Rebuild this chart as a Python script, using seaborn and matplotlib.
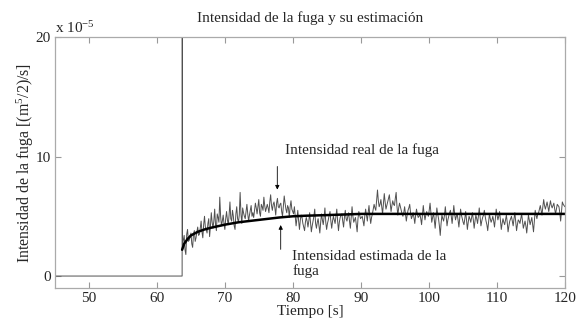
import numpy as np
import pandas as pd
import matplotlib
matplotlib.use("Agg")
import matplotlib.pyplot as plt
import seaborn as sns

# ---- data (units of 1e-5 (m^5/2)/s) ----
t_zero = [45.0, 63.7, 63.72]
real_zero = [0.0, 0.0, 30.0]

noise_t_start = 63.75
noise_t_end = 120.0
# samples read at even positions
real_vals_a = [
    2.6, 3.4, 1.8, 3.9, 3.0, 3.6, 2.4, 3.8, 3.2, 4.1,
    3.5, 4.6, 3.2, 5.0, 3.9, 4.4, 3.3, 5.3,
    4.0, 5.6, 3.8, 4.9, 6.6, 4.2, 5.1, 3.9,
    5.4, 4.3, 6.2, 4.6, 5.0, 3.9, 5.8, 4.5,
    7.0, 4.4, 5.3, 4.8, 6.0, 4.6, 5.5, 5.0,
    4.9, 6.1, 5.2, 6.4, 5.0, 5.8, 6.6, 5.4,
    6.0, 5.3, 6.8, 5.5, 6.2, 5.1, 6.5, 5.7,
    6.1, 5.0, 6.7, 5.6, 5.9, 4.9, 6.3, 5.4,
    5.8, 4.2, 5.5, 3.9, 5.1, 4.4, 3.8, 4.9,
    4.1, 5.3, 3.7, 4.6, 5.6, 4.0, 4.8, 3.6,
    5.2, 4.3, 5.7, 3.9, 4.7, 5.4, 4.0, 5.0,
    4.4, 5.6, 3.8, 4.9, 5.2, 4.1, 5.5, 4.6,
    5.3, 4.0, 5.8, 4.5, 4.9, 3.7, 5.4, 4.8,
    5.0, 4.2, 5.6, 4.6, 5.9, 4.4, 5.2, 6.0,
    5.5, 7.2, 5.8, 6.4, 5.2, 6.9, 5.6, 6.2,
    6.8, 5.4, 6.3, 5.9, 7.0, 5.1, 6.1, 5.5,
    5.0, 5.8, 4.6, 5.5, 6.0, 4.8, 5.3, 4.4,
    5.6, 4.9, 5.2, 4.3, 5.9, 4.7, 5.4, 5.0,
    6.1, 4.5, 5.3, 4.0, 5.7, 4.8, 3.4, 5.1,
    4.6, 5.8, 4.2, 5.0, 5.5, 4.4, 5.9, 4.7,
    5.2, 4.1, 5.6, 4.8, 4.3, 5.4, 3.9, 5.0,
    4.5, 5.3, 4.0, 5.1, 4.4, 5.7, 4.2, 4.9,
    5.5, 4.6, 3.8, 5.2, 4.5, 5.0, 4.1, 5.6,
    4.7, 5.4, 3.9, 4.8, 4.3, 5.1, 3.7, 4.6,
    5.0, 4.2, 5.3, 3.8, 4.7, 4.4, 5.2, 4.0,
    4.6, 3.6, 5.1, 4.3, 4.9, 3.7, 5.5, 4.8,
    5.3, 5.9, 5.1, 6.4, 5.6, 6.2, 5.4, 6.3,
    5.7, 6.1, 5.2, 6.0, 5.8, 4.6, 6.2, 5.9,
]
# samples read at odd positions (between the ones above)
real_vals_b = [
    3.0, 2.2, 3.5, 2.9, 3.3, 2.7, 3.5, 2.9, 3.7, 3.4,
    4.0, 3.7, 4.3, 4.1, 3.6, 4.8, 4.2, 4.5,
    4.6, 4.3, 5.2, 4.5, 5.0, 4.6, 4.4, 4.8,
    4.7, 5.1, 4.8, 5.5, 4.2, 5.2, 4.8, 5.1,
    5.2, 5.7, 5.0, 5.4, 5.2, 5.1, 5.9, 5.3,
    5.5, 5.7, 5.8, 5.3, 6.0, 5.5, 5.9, 5.7,
    5.7, 6.2, 5.9, 6.0, 5.7, 6.1, 5.8, 6.0,
    5.4, 5.8, 6.1, 5.3, 5.7, 5.8, 5.6, 5.2,
    5.0, 4.8, 4.6, 4.7, 4.9, 4.1, 4.5, 4.6,
    4.6, 4.5, 4.2, 5.0, 4.4, 4.5, 4.2, 4.5,
    4.7, 4.9, 4.5, 4.4, 5.1, 4.6, 4.6, 4.7,
    5.0, 4.6, 4.5, 5.1, 4.6, 4.9, 4.8, 5.0,
    4.6, 4.9, 5.0, 4.7, 4.3, 4.8, 5.1, 4.9,
    4.6, 5.0, 5.1, 5.3, 5.0, 4.9, 5.6, 5.7,
    6.4, 6.3, 6.0, 5.8, 6.0, 6.2, 5.9, 6.5,
    6.1, 5.9, 6.0, 6.5, 5.8, 5.7, 5.8, 5.2,
    5.3, 5.2, 5.1, 5.7, 5.3, 5.0, 4.9, 5.1,
    5.2, 5.0, 4.8, 5.1, 5.2, 5.1, 5.2, 5.5,
    5.3, 4.9, 4.7, 4.9, 5.2, 4.2, 4.4, 4.8,
    5.1, 5.0, 4.7, 5.3, 5.0, 5.1, 5.2, 5.0,
    4.7, 4.9, 5.1, 4.5, 4.8, 4.7, 4.5, 4.8,
    4.9, 4.7, 4.6, 4.8, 5.0, 4.9, 4.6, 5.1,
    5.0, 4.3, 4.5, 4.8, 4.7, 4.6, 4.8, 5.1,
    5.0, 4.6, 4.4, 4.5, 4.7, 4.5, 4.2, 4.8,
    4.6, 4.8, 4.5, 4.3, 4.6, 4.8, 4.6, 4.3,
    4.2, 4.4, 4.7, 4.6, 4.3, 4.6, 5.1, 5.2,
    5.6, 5.5, 5.8, 5.9, 5.9, 5.8, 5.9, 5.9,
    5.9, 5.6, 5.6, 5.9, 5.3, 5.4, 6.0, 5.8,
]

est_t = [63.7, 64.0, 64.5, 65.0, 66.0, 67.0, 68.0, 70.0, 72.0, 75.0, 78.0,
         80.0, 82.0, 85.0, 90.0, 95.0, 100.0, 120.0]
est_vals = [2.2, 2.7, 3.1, 3.4, 3.7, 3.9, 4.05, 4.3, 4.5, 4.7, 4.9,
            5.0, 5.05, 5.1, 5.2, 5.2, 5.2, 5.2]

xticks = [50, 60, 70, 80, 90, 100, 110, 120]
yticks = [0, 10, 20]

# ---- build frames ----
real_noise = [v for pair in zip(real_vals_a, real_vals_b) for v in pair]
t_noise = np.linspace(noise_t_start, noise_t_end, len(real_noise))
real_df = pd.DataFrame({"t": list(t_zero) + list(t_noise),
                        "v": list(real_zero) + list(real_noise)})
est_df = pd.DataFrame({"t": est_t, "v": est_vals})

sns.set_style("ticks")
plt.rcParams["font.family"] = ["Liberation Serif", "DejaVu Serif"]
plt.rcParams["mathtext.fontset"] = "custom"
plt.rcParams["mathtext.rm"] = "Liberation Serif"
plt.rcParams["mathtext.it"] = "Liberation Serif:italic"

fig = plt.figure(figsize=(5.77, 3.22), dpi=100)
ax = fig.add_axes([0.0953, 0.1056, 0.8837, 0.7794])

sns.lineplot(data=real_df, x="t", y="v", ax=ax, estimator=None, sort=False,
             color="#505050", linewidth=0.7)
sns.lineplot(data=est_df, x="t", y="v", ax=ax, estimator=None, sort=False,
             color="black", linewidth=1.8)

ax.set_xlim(45, 120)
ax.set_ylim(-1, 20)
ax.set_xticks(xticks)
ax.set_yticks(yticks)
ax.tick_params(direction="in", top=True, right=True, length=4,
               labelsize=11, color="#999999", pad=3)
for s in ax.spines.values():
    s.set_visible(True)
    s.set_color("#aaaaaa")
    s.set_linewidth(0.9)

ax.set_title("Intensidad de la fuga y su estimación", fontsize=11, pad=11)
ax.set_xlabel("Tiempo [s]", fontsize=11, labelpad=0)
ax.set_ylabel("Intensidad de la fuga [(m$^5$/2)/s]", fontsize=11.4, labelpad=0)
ax.text(0.0, 1.005, "x 10$^{-5}$", transform=ax.transAxes, fontsize=11,
        ha="left", va="bottom")

ax.text(78.9, 10.5, "Intensidad real de la fuga", fontsize=11,
        ha="left", va="center")
ax.annotate("", xy=(77.7, 7.0), xytext=(77.7, 9.4),
            arrowprops=dict(arrowstyle="-|>", color="black", lw=0.6,
                            mutation_scale=6))
ax.text(79.9, 1.0, "Intensidad estimada de la\nfuga", fontsize=11,
        ha="left", va="center", linespacing=1.15)
ax.annotate("", xy=(78.2, 4.5), xytext=(78.2, 2.0),
            arrowprops=dict(arrowstyle="-|>", color="black", lw=0.6,
                            mutation_scale=6))

fig.savefig("out.png", dpi=100)
